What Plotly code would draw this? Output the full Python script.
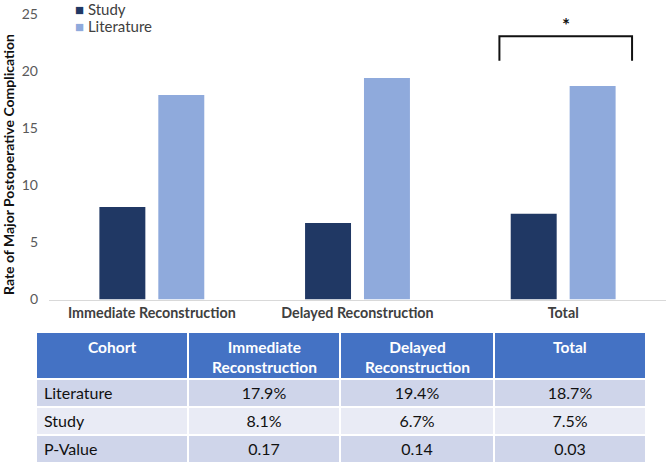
import plotly.graph_objects as go

categories = ["Immediate Reconstruction", "Delayed Reconstruction", "Total"]
study = [8.1, 6.7, 7.5]
literature = [17.9, 19.4, 18.7]
p_values = [0.17, 0.14, 0.03]
series_names = ["Study", "Literature"]
series_colors = ["#203864", "#8FAADC"]
y_ticks = [0, 5, 10, 15, 20, 25]
table_header = ["Cohort", "Immediate<br>Reconstruction", "Delayed<br>Reconstruction", "Total"]
row_labels = ["Literature", "Study", "P-Value"]

W, H = 666, 463
FONT = "Lato"

fig = go.Figure()
for name, vals, col in zip(series_names, [study, literature], series_colors):
    fig.add_trace(go.Bar(x=categories, y=vals, name=name, marker_color=col,
                         marker_line_width=0, showlegend=False,
                         xaxis="x", yaxis="y"))

def pct(v):
    return f"{v:.1f}%"

col_values = [row_labels]
for i in range(len(categories)):
    col_values.append([pct(literature[i]), pct(study[i]), f"{p_values[i]:.2f}"])

dark_row, light_row = "#CFD5EA", "#E9EBF5"
row_fill = [dark_row, light_row, dark_row]

TX0, TX1, TTOP = 36, 646, 332
col_w = [152, 152, 154, 152]

fig.add_trace(go.Table(
    domain=dict(x=[TX0 / W, TX1 / W], y=[0, (H - TTOP) / H]),
    columnwidth=col_w,
    header=dict(values=["" for _ in table_header],
                fill_color="#4472C4", line=dict(color="white", width=2),
                font=dict(family=FONT, size=15, color="white"),
                align="center", height=47),
    cells=dict(values=col_values,
               fill_color=[row_fill] * 4,
               line=dict(color="white", width=2),
               font=dict(family=FONT, size=16, color="#111111"),
               align=["left", "center", "center", "center"], height=28),
))

annotations = []
# table header text (centered per line)
xpos = TX0
for h, w in zip(table_header, col_w):
    cx = xpos + w / 2
    xpos += w
    annotations.append(dict(text=f"<b>{h}</b>", xref="paper", yref="paper",
                            x=cx / W, y=(H - 336) / H, xanchor="center",
                            yanchor="top", showarrow=False, align="center",
                            font=dict(family=FONT, size=15.5, color="white")))
# y axis title
annotations.append(dict(text="<b>Rate of Major Postoperative Complication</b>",
                        xref="paper", yref="paper", x=8 / W, y=(H - 165) / H,
                        xanchor="center", yanchor="middle",
                        textangle=-90, showarrow=False,
                        font=dict(family=FONT, size=14, color="#111111")))
# legend built from series
for k, (name, col) in enumerate(zip(series_names, series_colors)):
    annotations.append(dict(text=f"<span style='color:{col}'>■</span> {name}",
                            xref="paper", yref="paper", x=73 / W,
                            y=(H - (8.5 + 17.5 * k)) / H, xanchor="left",
                            yanchor="middle", showarrow=False,
                            font=dict(family=FONT, size=15, color="#404040")))
# significance star
annotations.append(dict(text="<b>*</b>", xref="x", yref="y", x=2.015, y=24.1,
                        showarrow=False,
                        font=dict(family=FONT, size=19, color="#111111")))

shapes = [dict(type="path", xref="x", yref="y",
               path="M 1.69 20.9 L 1.69 23.05 L 2.335 23.05 L 2.335 20.9",
               line=dict(color="#111111", width=2))]

fig.update_layout(
    width=W, height=H, autosize=False, margin=dict(l=0, r=0, t=0, b=0, pad=0),
    paper_bgcolor="white", plot_bgcolor="white",
    barmode="group", bargap=0.427, bargroupgap=0.22,
    xaxis=dict(domain=[49 / W, 1], showline=True, linecolor="#D9D9D9",
               linewidth=1, ticks="", showgrid=False, automargin=False,
               tickfont=dict(family=FONT, size=14.3, color="#404040"),
               tickvals=categories, ticktext=[f"<b>{c}</b>" for c in categories]),
    yaxis=dict(domain=[(H - 299.5) / H, (H - 14) / H], range=[0, 25],
               tickvals=y_ticks, showgrid=False, zeroline=False, showline=False,
               ticks="", ticklabelstandoff=10, automargin=False,
               tickfont=dict(family=FONT, size=14, color="#595959")),
    annotations=annotations, shapes=shapes,
)

fig.write_html("out.html", config={"displayModeBar": False},
               post_script="document.body.style.margin='0';")
